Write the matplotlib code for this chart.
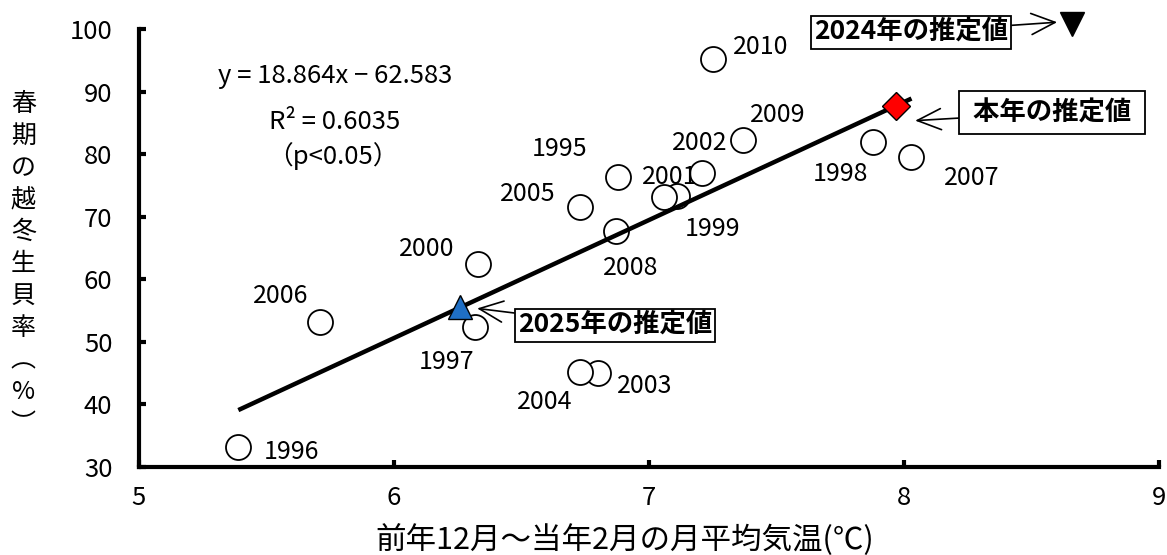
import matplotlib
matplotlib.use('Agg')
from matplotlib import pyplot as plt
from matplotlib.text import OffsetFrom

plt.rcParams['font.family'] = ['Noto Sans CJK JP', 'DejaVu Sans']

# 冬季の月平均気温(℃)と春期の越冬生貝率(%)
years = ['1995', '1996', '1997', '1998', '1999', '2000', '2001', '2002',
         '2003', '2004', '2005', '2006', '2007', '2008', '2009', '2010']
temps = [6.88, 5.39, 6.32, 7.88, 7.11, 6.33, 7.06, 7.21,
         6.80, 6.73, 6.73, 5.71, 8.03, 6.87, 7.37, 7.25]
rates = [76.3, 33.2, 52.4, 82.0, 73.3, 62.5, 73.2, 77.0,
         45.0, 45.2, 71.6, 53.2, 79.5, 67.7, 82.3, 95.2]

# 年ラベルの位置(点からのずれ, px)
label_dx = [-59, 53, -29, -33, 36, -51, 6, -3, 47, -35, -52, -39, 60, 15, 35, 48]
label_dy = [28, -5, -35, -32, -33, 15, 20, 30, -13, -30, 13, 26, -21, -37, 25, 12]

# 回帰式 y = a x + b
slope = 18.864
intercept = -62.583

# 推定値
t_2024 = 8.66
t_2025 = 6.26
t_now = 7.97

fig = plt.figure(figsize=(11.67, 5.55), dpi=100)
ax = fig.add_axes([0.119, 0.1586, 0.874, 0.789])

ax.plot(temps, rates, 'o', ms=18, mfc='white', mec='black', mew=1.3, zorder=3)

x0, x1 = min(temps), max(temps)
ax.plot([x0, x1], [slope * x0 + intercept, slope * x1 + intercept],
        color='black', lw=3.2, solid_capstyle='butt', zorder=4)

est = {}
for t in (t_2024, t_2025, t_now):
    est[t] = slope * t + intercept

ax.plot(t_2025, est[t_2025], '^', ms=17, mfc='#1f6fc5',
        mec='black', mew=1, zorder=5)
ax.plot(t_now, est[t_now], 'D', ms=14, mfc='red',
        mec='black', mew=1, zorder=5)
ax.plot(t_2024, est[t_2024], 'v', ms=17, color='black',
        clip_on=False, zorder=5)

for yr, t, r, dx, dy in zip(years, temps, rates, label_dx, label_dy):
    ax.annotate(yr, (t, r), xytext=(dx, dy), textcoords='offset pixels',
                ha='center', va='center', fontsize=18)


def callout(text, t, tip, off, pad):
    # 推定値を指す矢印付きの枠囲み文字
    box = dict(boxstyle='square,pad=%g' % pad, fc='white', ec='black', lw=1.3)
    arrow = dict(arrowstyle='->,head_length=0.9,head_width=0.4',
                 color='black', lw=1.2, shrinkA=0, shrinkB=0)
    ax.annotate(text, xy=tip,
                xycoords=OffsetFrom(ax.transData, (t, est[t]), unit='pixels'),
                xytext=off, textcoords='offset pixels', ha='center',
                va='center', fontsize=19, fontweight='bold', bbox=box,
                arrowprops=arrow, annotation_clip=False)


callout('2024年の推定値', t_2024, (-15, 2), (-146, -10), 0.12)
callout(' 本年の推定値 ', t_now, (19, -15), (137, 8), 0.3)
callout('2025年の推定値', t_2025, (17, -1), (138, -17), 0.12)

ax.text(0.192, 0.893, 'y = 18.864x − 62.583', transform=ax.transAxes,
        ha='center', va='center', fontsize=18.5)
ax.text(0.192, 0.788, 'R² = 0.6035', transform=ax.transAxes,
        ha='center', va='center', fontsize=18.5)
ax.text(0.19, 0.71, '（p<0.05）', transform=ax.transAxes,
        ha='center', va='center', fontsize=18.5)

ax.set_xlim(5, 9)
ax.set_ylim(30, 100)
ax.set_xticks([5, 6, 7, 8, 9])
ax.set_yticks(range(30, 101, 10))
for side in ['top', 'right']:
    ax.spines[side].set_visible(False)
for side in ['left', 'bottom']:
    ax.spines[side].set_linewidth(3)
ax.tick_params(direction='in', length=5, width=3, labelsize=18.5)
ax.tick_params(axis='x', pad=13)
ax.tick_params(axis='y', pad=19)

ax.set_xlabel('前年12月～当年2月の月平均気温(℃)', fontsize=22, va='center')
ax.xaxis.set_label_coords(0.476, -0.167)
fig.text(0.02, 0.524, '\n'.join('春期の越冬生貝率︵%︶'), ha='center',
         va='center', fontsize=18, linespacing=1.3)

fig.savefig('out.png', dpi=100)
